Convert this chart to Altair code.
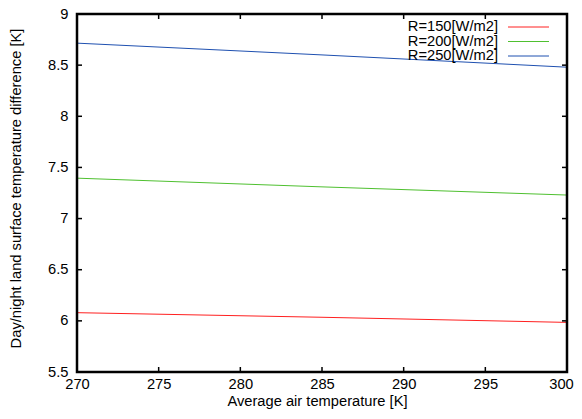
import altair as alt
import pandas as pd

temps = [270, 285, 300]
r150 = [6.08, 6.035, 5.985]
r200 = [7.395, 7.31, 7.23]
r250 = [8.715, 8.60, 8.48]
series_names = ["R=150[W/m2]", "R=200[W/m2]", "R=250[W/m2]"]
series_colors = ["#ff2020", "#4fc030", "#1f50b0"]
x_ticks = [270, 275, 280, 285, 290, 295, 300]
y_ticks = [5.5, 6, 6.5, 7, 7.5, 8, 8.5, 9]

rows = []
for name, vals in zip(series_names, [r150, r200, r250]):
    for t, v in zip(temps, vals):
        rows.append({"T": t, "dT": v, "series": name})
df = pd.DataFrame(rows)
leg = pd.DataFrame({"series": series_names, "row": list(range(len(series_names)))})

W, H = 490, 358
FONT = "Liberation Sans"
FS = 14.7
xs = alt.Scale(domain=[270, 300], nice=False, zero=False)
ys = alt.Scale(domain=[5.5, 9], nice=False, zero=False)
cs = alt.Scale(domain=series_names, range=series_colors)
legend_rows = alt.Scale(domain=[0, 2], range=[13, 42], zero=False, nice=False)

lines = alt.Chart(df).mark_line(strokeWidth=1, clip=True).encode(
    x=alt.X("T:Q", scale=xs,
            axis=alt.Axis(values=x_ticks, ticks=False, domain=False, grid=False,
                          labelFlush=False, labelPadding=4, labelFontSize=FS,
                          labelFont=FONT, labelColor="black",
                          labelOffset={"condition": {"test": "datum.value === 300",
                                                     "value": -6},
                                       "value": 0},
                          title="Average air temperature [K]",
                          titleFont=FONT, titleFontSize=FS, titleFontWeight="normal",
                          titleColor="black", titleX=240, titleY=29,
                          titleBaseline="middle")),
    y=alt.Y("dT:Q", scale=ys,
            axis=alt.Axis(values=y_ticks, ticks=False, domain=False, grid=False,
                          labelFlush=False, labelPadding=9, labelFontSize=FS,
                          labelFont=FONT, labelColor="black", labelExpr="datum.value",
                          title="Day/night land surface temperature difference [K]",
                          titleFont=FONT, titleFontSize=FS, titleFontWeight="normal",
                          titleColor="black", titleX=-61, titleY=174, titleAngle=-90,
                          titleAlign="center", titleBaseline="middle")),
    color=alt.Color("series:N", scale=cs, legend=None),
)

leg_text = alt.Chart(leg).mark_text(align="right", baseline="middle", font=FONT,
                                     fontSize=FS, color="black").encode(
    x=alt.value(421),
    y=alt.Y("row:Q", scale=legend_rows, axis=None),
    text="series:N",
)
leg_line = alt.Chart(leg).mark_rule(strokeWidth=1).encode(
    x=alt.value(431), x2=alt.value(472),
    y=alt.Y("row:Q", scale=legend_rows, axis=None),
    color=alt.Color("series:N", scale=cs, legend=None),
)

xt = pd.DataFrame({"v": x_ticks})
yt = pd.DataFrame({"v": y_ticks})
tick_style = dict(color="black", strokeWidth=1.5)
xb = alt.Chart(xt).mark_rule(**tick_style).encode(
    x=alt.X("v:Q", scale=xs), y=alt.value(H), y2=alt.value(H - 5))
xtp = alt.Chart(xt).mark_rule(**tick_style).encode(
    x=alt.X("v:Q", scale=xs), y=alt.value(0), y2=alt.value(5))
yl = alt.Chart(yt).mark_rule(**tick_style).encode(
    y=alt.Y("v:Q", scale=ys, axis=None), x=alt.value(0), x2=alt.value(5))
yr = alt.Chart(yt).mark_rule(**tick_style).encode(
    y=alt.Y("v:Q", scale=ys, axis=None), x=alt.value(W), x2=alt.value(W - 5))

frame = alt.Chart(pd.DataFrame({"f": [0]})).mark_rect(
    fill=None, stroke="black", strokeWidth=2.5
).encode(x=alt.value(0), x2=alt.value(W), y=alt.value(0), y2=alt.value(H))

chart = alt.layer(lines, xb, xtp, yl, yr, leg_line, leg_text, frame).resolve_scale(
    y="independent"
).properties(
    width=W, height=H,
    background="white",
    autosize=alt.AutoSizeParams(type="none"),
    padding={"left": 69, "top": 6, "right": 7, "bottom": 39},
).configure_view(stroke=None)

chart.save("out.html", embed_options={"renderer": "svg", "actions": False})
